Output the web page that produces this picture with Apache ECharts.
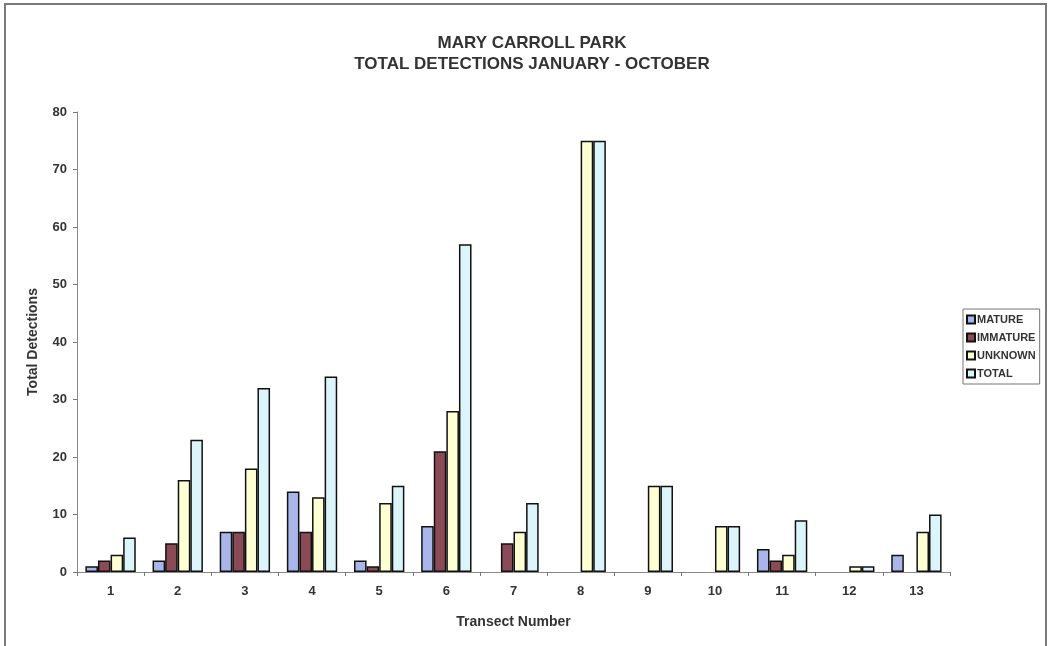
<!DOCTYPE html>
<html>
<head>
<meta charset="utf-8">
<script src="https://cdn.jsdelivr.net/npm/echarts@6/dist/echarts.min.js"></script>
<style>
html,body{margin:0;padding:0;background:#fff;}
#chart{width:1052px;height:646px;}
#frame{position:absolute;left:4px;top:3px;width:1043px;height:660px;border:2px solid #7a7a7a;pointer-events:none;box-sizing:border-box;}
</style>
</head>
<body>
<div id="chart"></div>
<div id="frame"></div>
<script>
const categories = ['1','2','3','4','5','6','7','8','9','10','11','12','13'];
const mature    = [1, 2, 7, 14, 2, 8, 0, 0, 0, 0, 4, 0, 3];
const immature  = [2, 5, 7, 7, 1, 21, 5, 0, 0, 0, 2, 0, 0];
const unknown   = [3, 16, 18, 13, 12, 28, 7, 75, 15, 8, 3, 1, 7];
const total     = [6, 23, 32, 34, 15, 57, 12, 75, 15, 8, 9, 1, 10];
const yTicks = [0, 10, 20, 30, 40, 50, 60, 70, 80];

const font = 'Liberation Sans, Arial, sans-serif';
const chart = echarts.init(document.getElementById('chart'));
function bar(name, data, color){
  return {
    name, type:'bar',
    // zero counts draw no bar in the original chart
    data: data.map(v => v === 0 ? null : v),
    barGap:'0%', barCategoryGap:'25%',
    itemStyle:{color, borderColor:'#111', borderWidth:1.5},
    emphasis:{disabled:true}
  };
}
chart.setOption({
  animation:false,
  title:{
    text:'MARY CARROLL PARK\nTOTAL DETECTIONS JANUARY - OCTOBER',
    left:527, top:28, textAlign:'center',
    textStyle:{fontFamily:font, fontSize:17, fontWeight:'bold', color:'#333', lineHeight:21}
  },
  legend:{
    orient:'vertical', left:963, top:309,
    padding:[4,4,4,3],
    itemWidth:8, itemHeight:8, itemGap:5,
    borderColor:'#777', borderWidth:1,
    icon:'rect',
    textStyle:{fontFamily:font, fontSize:11, fontWeight:'bold', color:'#333', padding:[0,0,0,-3], lineHeight:13},
    data:['MATURE','IMMATURE','UNKNOWN','TOTAL']
  },
  grid:{left:77, right:102, top:112, bottom:74},
  xAxis:{
    type:'category', data:categories,
    name:'Transect Number', nameLocation:'middle', nameGap:43,
    nameTextStyle:{fontFamily:font, fontSize:14, fontWeight:'bold', color:'#333'},
    axisLine:{lineStyle:{color:'#888', width:1}},
    axisTick:{show:true, alignWithLabel:false, length:4, lineStyle:{color:'#777'}},
    axisLabel:{fontFamily:font, fontSize:13, fontWeight:'bold', color:'#333', margin:13},
    splitLine:{show:false}
  },
  yAxis:{
    type:'value', min:yTicks[0], max:yTicks[yTicks.length-1], interval:10,
    name:'Total Detections', nameLocation:'middle', nameGap:37, nameRotate:90,
    nameTextStyle:{fontFamily:font, fontSize:14, fontWeight:'bold', color:'#333'},
    axisLine:{show:true, lineStyle:{color:'#888', width:1}},
    axisTick:{show:true, length:4, lineStyle:{color:'#777'}},
    axisLabel:{fontFamily:font, fontSize:13, fontWeight:'bold', color:'#333', margin:10},
    splitLine:{show:false}
  },
  series:[
    bar('MATURE', mature, '#aab6ea'),
    bar('IMMATURE', immature, '#8a4a56'),
    bar('UNKNOWN', unknown, '#ffffd4'),
    bar('TOTAL', total, '#dbf5fa')
  ]
});
</script>
</body>
</html>
